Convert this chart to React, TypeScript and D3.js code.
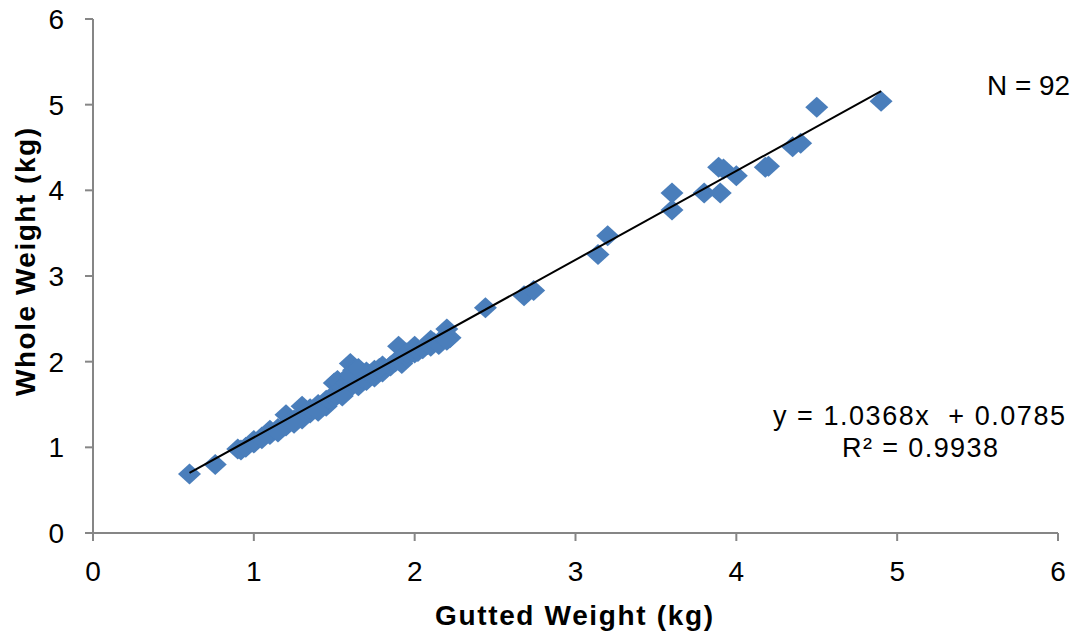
import React from "react";
import * as d3 from "d3";

const gutted: number[] = [
  0.60, 0.76, 2.44, 2.68, 2.74, 3.14, 3.20, 3.60, 3.60, 3.80, 3.90, 3.89, 4.00, 4.18, 4.20, 4.35, 4.40, 4.50, 4.90, 3.92,
  0.90, 0.92, 0.95, 1.00, 1.00, 1.05, 1.10, 1.10, 1.15, 1.20, 1.20, 1.22, 1.25, 1.30, 1.30, 1.30, 1.35, 1.35, 1.40, 1.40,
  1.45, 1.45, 1.50, 1.50, 1.50, 1.52, 1.55, 1.55, 1.58, 1.60, 1.60, 1.60, 1.62, 1.65, 1.65, 1.68, 1.70, 1.70, 1.72, 1.75,
  1.75, 1.80, 1.80, 1.85, 1.88, 1.90, 1.90, 1.92, 1.95, 1.95, 2.00, 2.00, 2.02, 2.05, 2.08, 2.10, 2.10, 2.12, 2.15, 2.18,
  2.20, 2.20, 2.22, 2.20, 1.60, 1.65, 1.40, 1.25, 1.15, 1.05, 1.78, 1.55,
];
const whole: number[] = [
  0.69, 0.80, 2.63, 2.77, 2.83, 3.25, 3.47, 3.97, 3.77, 3.97, 3.97, 4.27, 4.17, 4.27, 4.28, 4.51, 4.55, 4.97, 5.04, 4.25,
  0.98, 0.97, 1.00, 1.05, 1.08, 1.12, 1.15, 1.20, 1.22, 1.25, 1.38, 1.30, 1.32, 1.48, 1.38, 1.33, 1.40, 1.45, 1.45, 1.50,
  1.48, 1.55, 1.58, 1.75, 1.62, 1.78, 1.65, 1.70, 1.75, 1.98, 1.70, 1.80, 1.90, 1.85, 1.72, 1.80, 1.88, 1.78, 1.85, 1.82,
  1.90, 1.88, 1.95, 1.95, 2.00, 2.18, 2.02, 1.98, 2.05, 2.10, 2.10, 2.18, 2.12, 2.15, 2.20, 2.18, 2.25, 2.22, 2.20, 2.28,
  2.38, 2.30, 2.28, 2.25, 1.85, 1.92, 1.42, 1.28, 1.18, 1.10, 1.92, 1.60,
];
const xTicks: number[] = [0, 1, 2, 3, 4, 5, 6];
const yTicks: number[] = [0, 1, 2, 3, 4, 5, 6];
const slope = 1.0368;
const intercept = 0.0785;
const equationText = "y = 1.0368x  + 0.0785";
const r2Text = "R² = 0.9938";
const nText = "N = 92";
const xTitle = "Gutted Weight (kg)";
const yTitle = "Whole Weight (kg)";

export default function App() {
  const W = 1076, H = 635;
  const x = d3.scaleLinear().domain([0, 6]).range([93, 1058]);
  const y = d3.scaleLinear().domain([0, 6]).range([533, 19]);
  const axisColor = "#868686";
  const font = "'Liberation Sans', Arial, sans-serif";
  const xMin = d3.min(gutted) as number;
  const xMax = d3.max(gutted) as number;
  const hw = 11.5, hh = 10.5;
  const diamond = (cx: number, cy: number) =>
    `M${cx},${cy - hh}L${cx + hw},${cy}L${cx},${cy + hh}L${cx - hw},${cy}Z`;
  return (
    <svg width={W} height={H} style={{ position: "absolute", left: 0, top: 0, background: "#fff" }}>
      <line x1={x(0)} x2={x(0)} y1={y(6)} y2={y(0)} stroke={axisColor} strokeWidth={2} />
      <line x1={x(0)} x2={x(6)} y1={y(0)} y2={y(0)} stroke={axisColor} strokeWidth={2} />
      {yTicks.map((t) => (
        <g key={"y" + t}>
          <line x1={x(0) - 8} x2={x(0)} y1={y(t)} y2={y(t)} stroke={axisColor} strokeWidth={2} />
          <text x={64} y={y(t)} dy="0.36em" textAnchor="end" fontFamily={font} fontSize={28} fill="#000">
            {t}
          </text>
        </g>
      ))}
      {xTicks.map((t) => (
        <g key={"x" + t}>
          <line x1={x(t)} x2={x(t)} y1={y(0)} y2={y(0) + 8} stroke={axisColor} strokeWidth={2} />
          <text x={x(t)} y={571} dy="0.36em" textAnchor="middle" fontFamily={font} fontSize={28} fill="#000">
            {t}
          </text>
        </g>
      ))}
      {gutted.map((g, i) => (
        <path key={i} d={diamond(x(g), y(whole[i]))} fill="#4a7ebb" />
      ))}
      <line
        x1={x(xMin)}
        y1={y(slope * xMin + intercept)}
        x2={x(xMax)}
        y2={y(slope * xMax + intercept)}
        stroke="#000"
        strokeWidth={2}
      />
      <text x={987} y={85} dy="0.36em" textAnchor="start" fontFamily={font} fontSize={27} fill="#000" textLength={83} lengthAdjust="spacingAndGlyphs">
        {nText}
      </text>
      <text x={773} y={415} dy="0.36em" textAnchor="start" fontFamily={font} fontSize={27} fill="#000" textLength={292} lengthAdjust="spacing" style={{ whiteSpace: "pre" }}>
        {equationText}
      </text>
      <text x={842} y={447} dy="0.36em" textAnchor="start" fontFamily={font} fontSize={27} fill="#000" textLength={156} lengthAdjust="spacing">
        {r2Text}
      </text>
      <text x={435} y={615} dy="0.36em" textAnchor="start" fontFamily={font} fontSize={28} fontWeight="bold" fill="#000" textLength={278} lengthAdjust="spacing">
        {xTitle}
      </text>
      <text
        transform={`translate(25,262) rotate(-90)`}
        x={-134}
        dy="0.36em"
        textAnchor="start"
        fontFamily={font}
        fontSize={28}
        fontWeight="bold"
        fill="#000"
        textLength={268}
        lengthAdjust="spacing"
      >
        {yTitle}
      </text>
    </svg>
  );
}
